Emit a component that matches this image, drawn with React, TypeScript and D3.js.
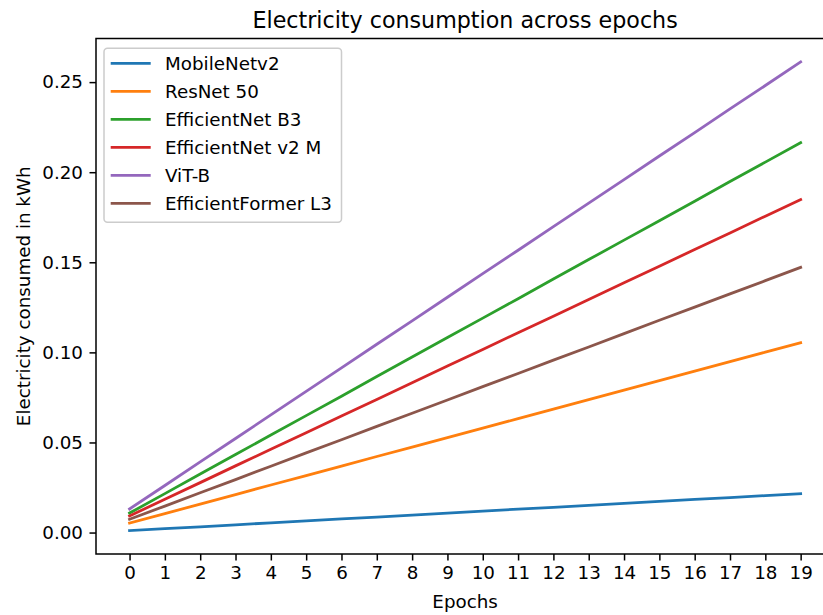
import React, { useEffect, useRef } from 'react';
import * as d3 from 'd3';

// epochs on the x axis
const epochs = d3.range(0, 20);

// cumulative kWh per epoch
const mobileNetV2 = [0.0011, 0.0022, 0.0032, 0.0043, 0.0054, 0.0065, 0.0076, 0.0086, 0.0097, 0.0108, 0.0119, 0.0130, 0.0140, 0.0151, 0.0162, 0.0173, 0.0184, 0.0194, 0.0205, 0.0216];
const resNet50 = [0.0053, 0.0105, 0.0158, 0.0211, 0.0264, 0.0316, 0.0369, 0.0422, 0.0474, 0.0527, 0.0580, 0.0632, 0.0685, 0.0738, 0.0791, 0.0843, 0.0896, 0.0949, 0.1001, 0.1054];
const efficientNetB3 = [0.0108, 0.0216, 0.0325, 0.0433, 0.0541, 0.0649, 0.0757, 0.0866, 0.0974, 0.1082, 0.1190, 0.1298, 0.1407, 0.1515, 0.1623, 0.1731, 0.1839, 0.1948, 0.2056, 0.2164];
const efficientNetV2M = [0.0092, 0.0185, 0.0277, 0.0370, 0.0462, 0.0554, 0.0647, 0.0739, 0.0832, 0.0924, 0.1016, 0.1109, 0.1201, 0.1294, 0.1386, 0.1478, 0.1571, 0.1663, 0.1756, 0.1848];
const vitB = [0.0131, 0.0261, 0.0392, 0.0522, 0.0653, 0.0784, 0.0914, 0.1045, 0.1175, 0.1306, 0.1437, 0.1567, 0.1698, 0.1828, 0.1959, 0.2090, 0.2220, 0.2351, 0.2481, 0.2612];
const efficientFormerL3 = [0.0074, 0.0147, 0.0221, 0.0294, 0.0368, 0.0442, 0.0515, 0.0589, 0.0662, 0.0736, 0.0810, 0.0883, 0.0957, 0.1030, 0.1104, 0.1178, 0.1251, 0.1325, 0.1398, 0.1472];

const seriesNames = ['MobileNetv2', 'ResNet 50', 'EfficientNet B3', 'EfficientNet v2 M', 'ViT-B', 'EfficientFormer L3'];
const seriesValues = [mobileNetV2, resNet50, efficientNetB3, efficientNetV2M, vitB, efficientFormerL3];
const colors = ['#1f77b4', '#ff7f0e', '#2ca02c', '#d62728', '#9467bd', '#8c564b'];
const yTicks = [0, 0.05, 0.1, 0.15, 0.2, 0.25];

const W = 823;
const H = 615;
const FONT = '"DejaVu Sans", sans-serif';

const App = () => {
  const svgRef = useRef(null);

  useEffect(() => {
    const svg = d3.select(svgRef.current);
    svg.selectAll('*').remove();

    const left = 96, right = 834.2, top = 38.5, bottom = 554;

    // matplotlib style 5% margins
    const xScale = d3.scaleLinear()
      .domain([-0.95, 19.95])
      .range([left, right]);

    const allVals = seriesValues.flat();
    const [lo, hi] = d3.extent(allVals) as [number, number];
    const pad = (hi - lo) * 0.05;
    const yScale = d3.scaleLinear()
      .domain([lo - pad, hi + pad])
      .range([bottom, top]);

    const line = d3.line<number>()
      .x((_, i) => xScale(epochs[i]))
      .y(d => yScale(d));

    svg.append('g')
      .selectAll('path')
      .data(seriesValues)
      .enter()
      .append('path')
      .attr('d', d => line(d))
      .attr('fill', 'none')
      .attr('stroke', (_, i) => colors[i])
      .attr('stroke-width', 2.8)
      .attr('stroke-linecap', 'square');

    // spines (right one falls outside the picture)
    svg.append('rect')
      .attr('x', left)
      .attr('y', top)
      .attr('width', right - left)
      .attr('height', bottom - top)
      .attr('fill', 'none')
      .attr('stroke', '#000')
      .attr('stroke-width', 1.5);

    const xAxis = d3.axisBottom(xScale)
      .tickValues(epochs)
      .tickFormat(d3.format('d'))
      .tickSize(6.5)
      .tickPadding(6);

    const gx = svg.append('g')
      .attr('transform', `translate(0, ${bottom})`)
      .call(xAxis);
    gx.select('.domain').remove();
    gx.selectAll('line').attr('stroke-width', 1.5);
    gx.selectAll('text').attr('font-size', 18.3).attr('font-family', FONT).attr('fill', '#000');

    const yAxis = d3.axisLeft(yScale)
      .tickValues(yTicks)
      .tickFormat(d3.format('.2f'))
      .tickSize(6.5)
      .tickPadding(6.5);

    const gy = svg.append('g')
      .attr('transform', `translate(${left}, 0)`)
      .call(yAxis);
    gy.select('.domain').remove();
    gy.selectAll('line').attr('stroke-width', 1.5);
    gy.selectAll('text').attr('font-size', 18.3).attr('font-family', FONT).attr('fill', '#000');

    svg.append('text')
      .attr('x', (left + right) / 2)
      .attr('y', 28)
      .attr('text-anchor', 'middle')
      .attr('font-family', FONT)
      .attr('font-size', 22.2)
      .text('Electricity consumption across epochs');

    svg.append('text')
      .attr('x', (left + right) / 2)
      .attr('y', 608)
      .attr('text-anchor', 'middle')
      .attr('font-family', FONT)
      .attr('font-size', 18.3)
      .text('Epochs');

    svg.append('text')
      .attr('transform', `translate(30, ${(top + bottom) / 2}) rotate(-90)`)
      .attr('text-anchor', 'middle')
      .attr('font-family', FONT)
      .attr('font-size', 18.3)
      .text('Electricity consumed in kWh');

    // legend
    const legend = svg.append('g');
    legend.append('rect')
      .attr('x', 104)
      .attr('y', 48.3)
      .attr('width', 237.5)
      .attr('height', 174)
      .attr('rx', 3.5)
      .attr('fill', 'rgba(255,255,255,0.8)')
      .attr('stroke', '#cccccc')
      .attr('stroke-width', 1.5);

    const rows = legend.selectAll('g.row')
      .data(seriesNames)
      .enter()
      .append('g')
      .attr('class', 'row')
      .attr('transform', (_, i) => `translate(0, ${63.3 + i * 28})`);

    rows.append('line')
      .attr('x1', 110.7)
      .attr('x2', 150.7)
      .attr('stroke', (_, i) => colors[i])
      .attr('stroke-width', 2.8);

    rows.append('text')
      .attr('x', 165)
      .attr('dy', '0.35em')
      .attr('font-family', FONT)
      .attr('font-size', 18.3)
      .text(d => d);
  }, []);

  return (
    <svg
      ref={svgRef}
      width={W}
      height={H}
      style={{ position: 'absolute', left: 0, top: 0, background: '#fff' }}
    ></svg>
  );
};

export default App;
